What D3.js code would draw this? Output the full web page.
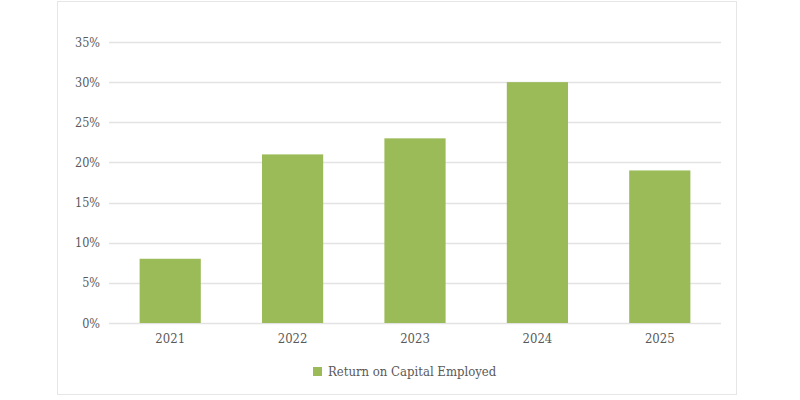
<!DOCTYPE html>
<html>
<head>
<meta charset="utf-8">
<script src="https://cdn.jsdelivr.net/npm/d3@7"></script>
<style>
  body { margin: 0; background: #fff; }
  text { font-family: "DejaVu Serif Condensed", "DejaVu Serif", serif; font-stretch: condensed; fill: #595959; }
</style>
</head>
<body>
<svg id="chart" width="800" height="400"></svg>
<script>
var years = ["2021", "2022", "2023", "2024", "2025"];
var roce = [0.08, 0.21, 0.23, 0.30, 0.19];
var yTicks = [0, 0.05, 0.10, 0.15, 0.20, 0.25, 0.30, 0.35];
var seriesName = "Return on Capital Employed";

var svg = d3.select("#chart");

// outer chart frame
svg.append("rect")
  .attr("x", 57.5).attr("y", 1.5)
  .attr("width", 679).attr("height", 393)
  .attr("fill", "none")
  .attr("stroke", "#e6e6e6");

var margin = { left: 109, right: 79, top: 42, bottom: 77 };
var width = 800 - margin.left - margin.right;
var height = 400 - margin.top - margin.bottom;

var g = svg.append("g")
  .attr("transform", "translate(" + margin.left + "," + margin.top + ")");

var x = d3.scaleBand().domain(years).range([0, width]).paddingInner(0.5).paddingOuter(0.25);
var y = d3.scaleLinear().domain([0, 0.35]).range([height, 0]);

// gridlines
g.selectAll(".grid")
  .data(yTicks)
  .enter()
  .append("line")
  .attr("class", "grid")
  .attr("x1", 0).attr("x2", width)
  .attr("y1", function (d) { return Math.round(y(d)) + 0.5; })
  .attr("y2", function (d) { return Math.round(y(d)) + 0.5; })
  .attr("stroke", "#e3e3e3")
  .attr("stroke-width", 1.5);

// y axis labels
var yAxis = d3.axisLeft(y).tickValues(yTicks).tickFormat(d3.format(".0%")).tickSize(0).tickPadding(9);
var ya = g.append("g").call(yAxis);
ya.select(".domain").remove();
ya.attr("font-family", null);
ya.selectAll("text").attr("font-size", 12.5).style("fill", "#595959");

// bars
g.selectAll(".bar")
  .data(roce)
  .enter()
  .append("rect")
  .attr("class", "bar")
  .attr("x", function (d, i) { return x(years[i]); })
  .attr("y", function (d) { return y(d); })
  .attr("width", x.bandwidth())
  .attr("height", function (d) { return height - y(d); })
  .attr("fill", "#9bbb59");

// x axis labels
var xAxis = d3.axisBottom(x).tickSize(0).tickPadding(11);
var xa = g.append("g").attr("transform", "translate(0," + height + ")").call(xAxis);
xa.select(".domain").remove();
xa.attr("font-family", null);
xa.selectAll("text").attr("font-size", 13).style("fill", "#595959");

// legend
var legend = svg.append("g").attr("transform", "translate(313,367)");
legend.append("rect").attr("width", 9).attr("height", 9).attr("fill", "#9bbb59");
legend.append("text")
  .attr("x", 15).attr("y", 4.5)
  .attr("dy", "0.35em")
  .attr("font-size", 13)
  .text(seriesName);
</script>
</body>
</html>
